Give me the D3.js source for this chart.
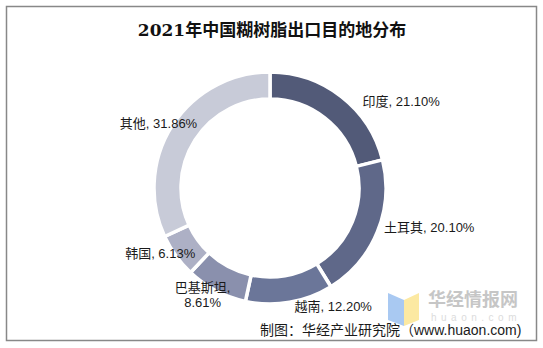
<!DOCTYPE html>
<html>
<head>
<meta charset="utf-8">
<script src="https://cdn.jsdelivr.net/npm/d3@7/dist/d3.min.js"></script>
<style>
  html, body { margin: 0; padding: 0; background: #fff; }
  svg { display: block; }
  text { font-family: "Liberation Sans", "Noto Sans CJK SC", sans-serif; fill: #222; }
</style>
</head>
<body>
<svg id="chart" width="543" height="348"></svg>
<script>
// Export destinations of China's paste PVC resin, 2021 (share, %)
const categories = ["印度", "土耳其", "越南", "巴基斯坦", "韩国", "其他"];
const shares = [21.10, 20.10, 12.20, 8.61, 6.13, 31.86];
const colors = ["#525a78", "#5f6889", "#6b7699", "#8a90ad", "#adb0c5", "#c8cbd8"];
const titleText = "2021年中国糊树脂出口目的地分布";
const sourceText = "制图：华经产业研究院（www.huaon.com)";

const svg = d3.select("#chart");

// frame
svg.append("rect")
  .attr("x", 6.5).attr("y", 6.5)
  .attr("width", 530).attr("height", 334)
  .attr("fill", "#fff")
  .attr("stroke", "#888").attr("stroke-width", 1.5);

// title
svg.append("text")
  .attr("x", 272).attr("y", 36)
  .attr("text-anchor", "middle")
  .style("font-family", "'DejaVu Serif', 'Noto Sans CJK SC', serif")
  .style("font-size", "17px")
  .style("font-weight", "bold")
  .style("fill", "#111")
  .text(titleText);

const cx = 270, cy = 188;
const rOuter = 116, rInner = 89;

const data = categories.map((c, i) => ({ name: c, value: shares[i], color: colors[i] }));

const pie = d3.pie().sort(null).value(d => d.value).startAngle(0).endAngle(2 * Math.PI);
const arc = d3.arc().innerRadius(rInner).outerRadius(rOuter);
const arcs = pie(data);

const g = svg.append("g").attr("transform", `translate(${cx},${cy})`);

g.selectAll("path.slice")
  .data(arcs)
  .join("path")
  .attr("class", "slice")
  .attr("d", arc)
  .attr("fill", d => d.data.color)
  .attr("stroke", "#fff")
  .attr("stroke-width", 3.5)
  .attr("stroke-linejoin", "miter");

// data labels: placed around the ring at each slice's mid angle, then nudged
const labelArc = d3.arc().innerRadius(rOuter + 18).outerRadius(rOuter + 18);
const nudge = {
  "印度":     { dx: 10,  dy: 19,  anchor: "start" },
  "土耳其":   { dx: -10, dy: -11, anchor: "start" },
  "越南":     { dx: 2,   dy: -14, anchor: "start" },
  "巴基斯坦": { dx: -5,  dy: -12, anchor: "middle" },
  "韩国":     { dx: 34,  dy: -13, anchor: "end" },
  "其他":     { dx: 40,  dy: 8,   anchor: "end" }
};
const fmt = v => v.toFixed(2) + "%";

arcs.forEach(a => {
  const [x, y] = labelArc.centroid(a);
  const n = nudge[a.data.name];
  const t = g.append("text")
    .attr("x", x + n.dx)
    .attr("y", y + n.dy)
    .attr("text-anchor", n.anchor)
    .attr("dominant-baseline", "central")
    .style("font-size", "13px")
    .style("fill", "#1a1a1a");
  if (a.data.name === "巴基斯坦") {
    t.append("tspan").attr("x", x + n.dx).attr("dy", "-0.6em").text(a.data.name + ",");
    t.append("tspan").attr("x", x + n.dx).attr("dy", "1.2em").text(fmt(a.data.value));
  } else {
    t.text(a.data.name + ", " + fmt(a.data.value));
  }
});

// watermark logo
const wm = svg.append("g");
wm.append("polygon")
  .attr("points", "388,293 404,300 404,326 388,320")
  .attr("fill", "#a9c9f2");
wm.append("polygon")
  .attr("points", "404,300 419,293 419,320 404,326")
  .attr("fill", "#fce9a2");
wm.append("text")
  .attr("x", 428).attr("y", 306)
  .style("font-family", "'Noto Sans CJK SC', sans-serif")
  .style("font-size", "18px").style("font-weight", "bold")
  .style("fill", "#c6c6c6")
  .text("华经情报网");
wm.append("text")
  .attr("x", 431).attr("y", 321)
  .style("font-size", "10px")
  .style("letter-spacing", "4.5px")
  .style("fill", "#dcdcdc")
  .text("huaon.com");

// source note
svg.append("text")
  .attr("x", 260).attr("y", 335)
  .style("font-size", "14px")
  .style("fill", "#1a1a1a")
  .text(sourceText);
</script>
</body>
</html>
